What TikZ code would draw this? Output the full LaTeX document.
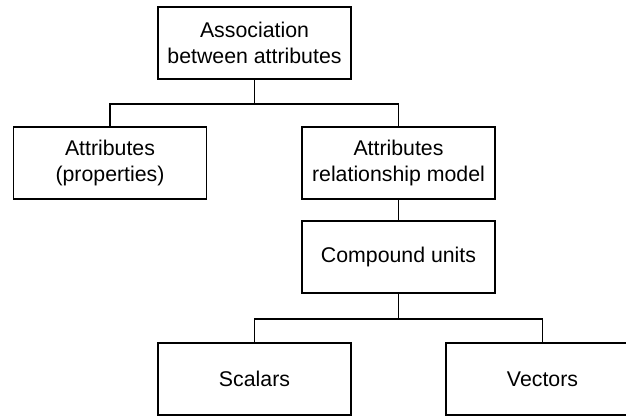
\documentclass[tikz,border=0pt]{standalone}
\usepackage{fontspec}
\setmainfont{Liberation Sans}
\begin{document}
\begin{tikzpicture}[x=1pt,y=-1pt,
  box/.style={draw, line width=1.5pt, minimum width=193pt, minimum height=72pt, inner sep=0pt, align=center, font=\fontsize{21.3}{25.5}\selectfont},
  conn/.style={line width=1.5pt}]
\useasboundingbox (0,0) rectangle (626,416);
\clip (0,0) rectangle (626,416);
\node[box] (b1) at (254.5,43) {Association\\between attributes};
\node[box] (b2) at (110,163) {Attributes\\(properties)};
\node[box] (b3) at (398.5,163) {Attributes\\relationship model};
\node[box] (b4) at (398.5,257) {Compound units};
\node[box] (b5) at (254.5,379) {Scalars};
\node[box] (b6) at (542.5,379) {Vectors};
\coordinate (j1) at (254.5,104);
\coordinate (j2) at (398.5,319);
\draw[conn] (b1.south) -- (j1);
\draw[conn] (j1) -| (b2.north);
\draw[conn] (j1) -| (b3.north);
\draw[conn] (b3.south) -- (b4.north);
\draw[conn] (b4.south) -- (j2);
\draw[conn] (j2) -| (b5.north);
\draw[conn] (j2) -| (b6.north);
\end{tikzpicture}
\end{document}
